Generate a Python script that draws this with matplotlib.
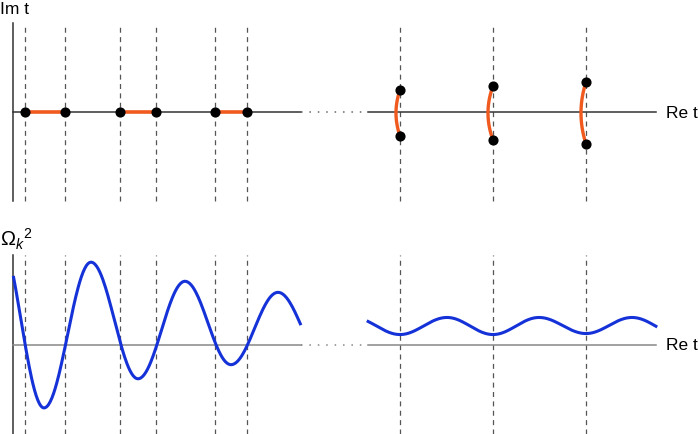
import numpy as np
import matplotlib.pyplot as plt

plt.rcParams['font.family'] = ['Liberation Sans', 'DejaVu Sans']
plt.rcParams['mathtext.fontset'] = 'custom'
plt.rcParams['mathtext.rm'] = 'Liberation Sans'
plt.rcParams['mathtext.it'] = 'Liberation Sans:italic'

# real-time turning points (pairs on the Re t axis)
real_pairs = [(1.2, 5.2), (10.7, 14.3), (20.2, 23.4)]
# complex turning points far out (Re t, Im top, Im bottom, bulge of the arc)
arc_t = [38.7, 48.0, 57.3]
arc_top = [2.2, 2.6, 3.0]
arc_bot = [-2.4, -2.8, -3.2]
arc_bulge = [0.4, 0.5, 0.5]

# Omega_k^2 : extrema (first/last ones lie outside the drawn range)
left_ext_t = [-1.5, 3.1, 7.8, 12.5, 17.2, 21.8, 26.5, 31.2]
left_ext_v = [11.2, -6.3, 8.2, -3.4, 6.3, -2.0, 5.2, -1.6]
right_ext_t = [34.0, 38.7, 43.4, 48.0, 52.6, 57.3, 61.9, 66.6]
right_ext_v = [2.7, 1.0, 2.7, 1.0, 2.7, 1.1, 2.7, 1.0]

left_range = (0.0, 28.8)
right_range = (35.5, 64.3)
gap_range = (28.8, 35.4)
axis_h = 8.9

dashed_t = [t for p in real_pairs for t in p] + arc_t


def smooth_through(ext_t, ext_v, lo, hi):
    # half-cosine between consecutive extrema
    xs, ys = [], []
    for i in range(len(ext_t) - 1):
        s = np.linspace(0, 1, 60)
        xs.append(ext_t[i] + s * (ext_t[i + 1] - ext_t[i]))
        ys.append(ext_v[i] + (ext_v[i + 1] - ext_v[i]) * (1 - np.cos(np.pi * s)) / 2)
    x = np.concatenate(xs)
    y = np.concatenate(ys)
    keep = (x >= lo) & (x <= hi)
    return x[keep], y[keep]


fig = plt.figure(figsize=(6.98, 4.35), dpi=100)
h = 218 / 435
ax1 = fig.add_axes([0, 1 - h, 1, h])
ax2 = fig.add_axes([0, 0, 1, h])

for ax in (ax1, ax2):
    ax.set_axis_off()
    ax.set_xlim(-1.3, 68.5)
ax1.set_ylim(-10.5, 11.3)
ax2.set_ylim(-8.9, 12.8)

dash = dict(color='#555555', lw=0.9, ls=(0, (4, 3.5)), zorder=1)

# ---- top panel: complex t plane
ax1.plot([0, 0], [-axis_h, axis_h], color='#333333', lw=1.1)
ax1.plot(left_range, [0, 0], color='#333333', lw=1.1, zorder=2)
ax1.plot(right_range, [0, 0], color='#333333', lw=1.1, zorder=2)
ax1.plot(gap_range, [0, 0], color='#666666', lw=1.1, ls=(0, (1, 4.5)))
for t in dashed_t:
    ax1.plot([t, t], [-axis_h, axis_h], **dash)

for a, b in real_pairs:
    ax1.plot([a, b], [0, 0], color='#f05a1e', lw=2.6, zorder=3)
    ax1.plot([a, b], [0, 0], 'o', color='black', ms=6.3, zorder=4)

for t, top, bot, bl in zip(arc_t, arc_top, arc_bot, arc_bulge):
    y = np.linspace(bot, top, 60)
    mid = (top + bot) / 2
    half = (top - bot) / 2
    x = t - bl * (1 - ((y - mid) / half) ** 2)
    ax1.plot(x, y, color='#f05a1e', lw=2.4, zorder=3)
    ax1.plot([t, t], [top, bot], 'o', color='black', ms=6.3, zorder=4)

ax1.text(-1.3, 10.4, 'Im t', fontsize=12.5, va='center', ha='left')
ax1.text(65.3, 0, 'Re t', fontsize=12.5, va='center', ha='left')

# ---- bottom panel: Omega_k^2 along Re t
ax2.plot([0, 0], [-axis_h, axis_h], color='#333333', lw=1.1)
ax2.plot(left_range, [0, 0], color='#888888', lw=1.1, zorder=2)
ax2.plot(right_range, [0, 0], color='#888888', lw=1.1, zorder=2)
ax2.plot(gap_range, [0, 0], color='#888888', lw=1.1, ls=(0, (1, 4.5)))
for t in dashed_t:
    ax2.plot([t, t], [-axis_h, axis_h], **dash)

x, y = smooth_through(left_ext_t, left_ext_v, *left_range)
ax2.plot(x, y, color='#1532d8', lw=2.2, zorder=3)
x, y = smooth_through(right_ext_t, right_ext_v, *right_range)
ax2.plot(x, y, color='#1532d8', lw=2.2, zorder=3)

ax2.text(-1.3, 10.6, r'$\Omega_k{}^2$', fontsize=14.5, va='center', ha='left')
ax2.text(65.3, 0, 'Re t', fontsize=12.5, va='center', ha='left')

fig.savefig('out.png', dpi=100)
